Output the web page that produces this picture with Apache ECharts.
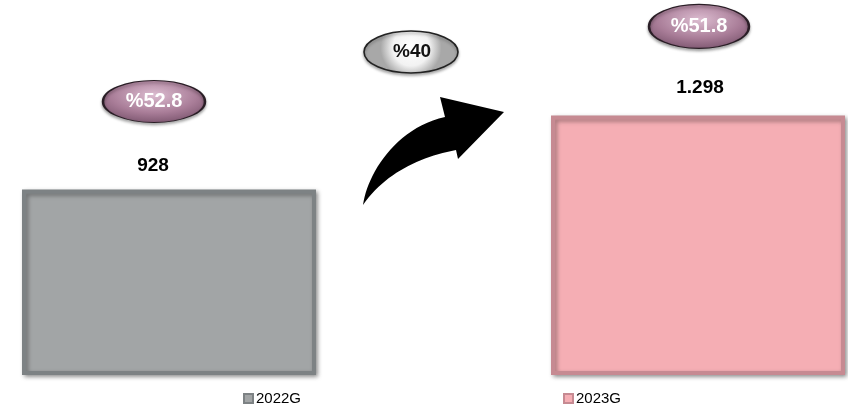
<!DOCTYPE html>
<html>
<head>
<meta charset="utf-8">
<script src="https://cdn.jsdelivr.net/npm/echarts@6/dist/echarts.min.js"></script>
<style>
html,body{margin:0;padding:0;background:#fff;}
#chart{width:848px;height:411px;}
</style>
</head>
<body>
<div id="chart"></div>
<script>
// ---- data ----
const categories = ['2022G', '2023G'];
const years = ['2022G', '2023G'];
const values = [928, 1298];
const shares = [52.8, 51.8];
const growth = 40;
const yTicksMax = 1500;

const FONT = 'Liberation Sans';
function fmtThousands(v) {
  return String(v).replace(/\B(?=(\d{3})+(?!\d))/g, '.');
}
function fmtPct(v, digits) {
  return '%' + v.toFixed(digits);
}

// arrow outline (decoration) sampled from cubic curves
function cubic(p0, p1, p2, p3, n) {
  const pts = [];
  for (let k = 0; k <= n; k++) {
    const t = k / n, u = 1 - t;
    pts.push([
      u*u*u*p0[0] + 3*u*u*t*p1[0] + 3*u*t*t*p2[0] + t*t*t*p3[0],
      u*u*u*p0[1] + 3*u*u*t*p1[1] + 3*u*t*t*p2[1] + t*t*t*p3[1]
    ]);
  }
  return pts;
}
const arrowPts = []
  .concat(cubic([363, 205], [367, 175], [395, 128], [445, 117], 24))
  .concat([[440, 97], [504, 112], [458, 159]])
  .concat(cubic([456, 150], [420, 157], [385, 173], [363, 205], 24));

const pillGradient = {
  type: 'radial', x: 0.5, y: 0.35, r: 0.75,
  colorStops: [
    { offset: 0, color: '#dcbcd0' },
    { offset: 0.55, color: '#a97d98' },
    { offset: 1, color: '#6f4a63' }
  ]
};

const barColors = ['#a2a5a6', '#f5aeb4'];
const barBorders = ['#7d8284', '#c68a92'];
const labelOffsets = [[-16, 0], [2, 0]];
const labelDistances = [14, 18];
const pillOffsets = [[-15, -88], [1, -89]];
const pillSizes = [[102, 42], [100, 44]];

const series = years.map(function (name, i) {
  const data = categories.map(function (c, k) { return k === i ? values[i] : '-'; });
  return {
    name: name,
    type: 'bar',
    stack: 'all',
    barWidth: 294,
    clip: false,
    data: data,
    itemStyle: {
      color: barColors[i],
      borderColor: barBorders[i],
      borderWidth: 4,
      shadowColor: 'rgba(0,0,0,0.35)',
      shadowBlur: 4,
      shadowOffsetX: 2,
      shadowOffsetY: 2
    },
    label: {
      show: true,
      position: 'top',
      distance: labelDistances[i],
      offset: labelOffsets[i],
      formatter: function (p) { return fmtThousands(p.value); },
      fontFamily: FONT,
      fontWeight: 'bold',
      fontSize: 19,
      color: '#000'
    },
    markPoint: {
      symbol: 'circle',
      symbolSize: pillSizes[i],
      symbolOffset: pillOffsets[i],
      silent: true,
      itemStyle: {
        color: pillGradient,
        borderColor: '#2a1e26',
        borderWidth: 1.6,
        shadowColor: 'rgba(0,0,0,0.35)',
        shadowBlur: 3,
        shadowOffsetY: 2
      },
      label: {
        show: true,
        position: 'inside',
        formatter: fmtPct(shares[i], 1),
        color: '#fff',
        fontFamily: FONT,
        fontWeight: 'bold',
        fontSize: 20
      },
      data: [{ coord: [categories[i], values[i]] }]
    }
  };
});

const chart = echarts.init(document.getElementById('chart'), null, { renderer: 'canvas' });
chart.setOption({
  animation: false,
  backgroundColor: '#fff',
  grid: { left: 169, right: 150, top: 75, bottom: 36, outerBoundsMode: 'none' },
  xAxis: {
    type: 'category',
    data: categories,
    boundaryGap: false,
    show: false
  },
  yAxis: {
    type: 'value',
    min: 0,
    max: yTicksMax,
    show: false
  },
  legend: [
    {
      data: [years[0]], left: 238, top: 386,
      icon: 'rect', itemWidth: 9, itemHeight: 9, itemGap: 4,
      textStyle: { fontFamily: FONT, fontSize: 15, color: '#000', padding: [0, 0, 0, -2] }
    },
    {
      data: [years[1]], left: 558, top: 386,
      icon: 'rect', itemWidth: 9, itemHeight: 9, itemGap: 4,
      textStyle: { fontFamily: FONT, fontSize: 15, color: '#000', padding: [0, 0, 0, -2] }
    }
  ],
  graphic: [
    {
      type: 'polygon',
      shape: { points: arrowPts },
      style: { fill: '#000' }
    },
    {
      type: 'ellipse',
      shape: { cx: 411, cy: 52, rx: 47, ry: 21 },
      style: {
        fill: {
          type: 'radial', x: 0.5, y: 0.4, r: 0.7,
          colorStops: [
            { offset: 0, color: '#ffffff' },
            { offset: 0.6, color: '#f2f2f2' },
            { offset: 1, color: '#a8a8a8' }
          ]
        },
        stroke: '#222',
        lineWidth: 1.6,
        shadowColor: 'rgba(0,0,0,0.3)',
        shadowBlur: 3,
        shadowOffsetY: 2
      }
    },
    {
      type: 'text',
      x: 412, y: 52,
      style: {
        text: fmtPct(growth, 0),
        fill: '#111',
        font: 'bold 19px "' + FONT + '"',
        align: 'center',
        verticalAlign: 'middle'
      }
    }
  ],
  series: series
});
</script>
</body>
</html>
